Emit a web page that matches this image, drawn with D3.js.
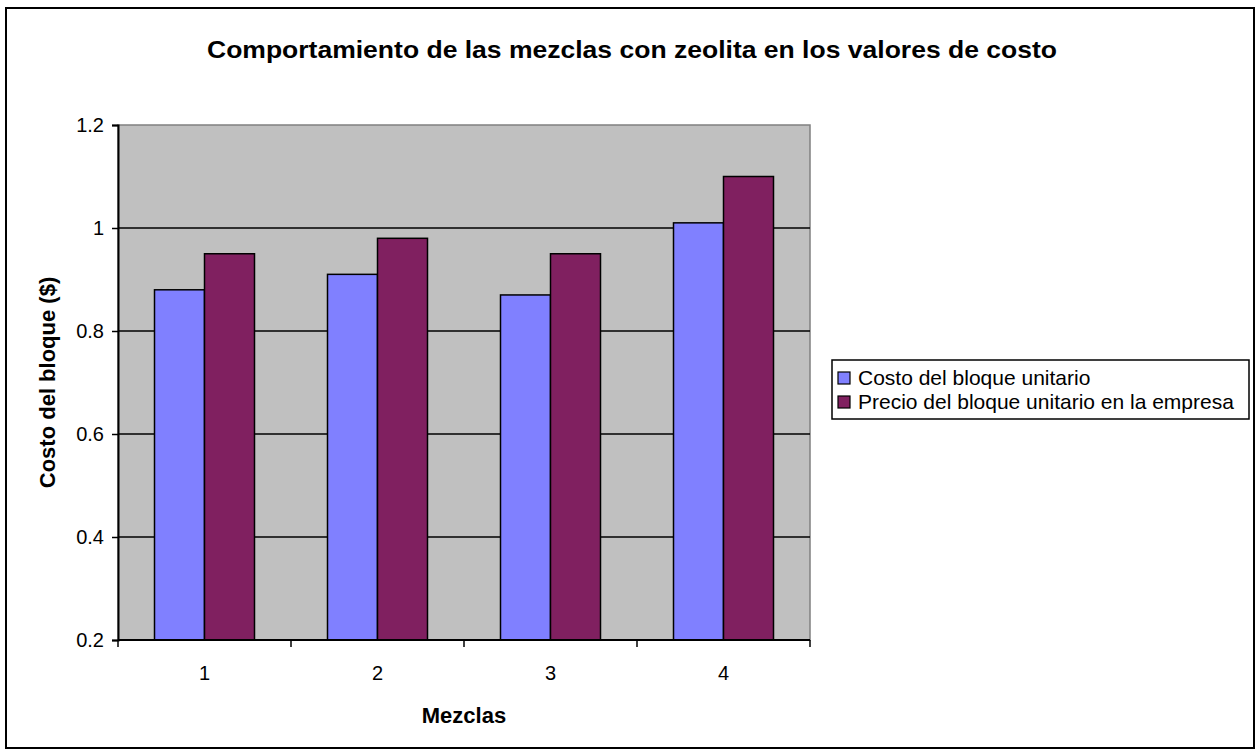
<!DOCTYPE html>
<html>
<head>
<meta charset="utf-8">
<script src="https://cdn.jsdelivr.net/npm/d3@7"></script>
<style>
  html, body { margin: 0; padding: 0; background: #fff; }
  svg { display: block; font-family: "Liberation Sans", Arial, sans-serif; }
</style>
</head>
<body>
<svg id="chart" width="1256" height="753"></svg>
<script>
// Mezclas con zeolita: costo vs. precio del bloque unitario
const categories = ["1", "2", "3", "4"];
const seriesNames = ["Costo del bloque unitario", "Precio del bloque unitario en la empresa"];
const costo = [0.88, 0.91, 0.87, 1.01];
const precio = [0.95, 0.98, 0.95, 1.10];
const yTicks = [0.2, 0.4, 0.6, 0.8, 1, 1.2];
const colors = ["#8080FF", "#802060"];

const svg = d3.select("#chart");
const plot = { left: 118, right: 810, top: 125, bottom: 640 };

// outer frame
svg.append("rect")
  .attr("x", 6).attr("y", 8).attr("width", 1248).attr("height", 740)
  .attr("fill", "#fff").attr("stroke", "#000").attr("stroke-width", 2);

const x = d3.scaleBand().domain(categories).range([plot.left, plot.right]).paddingInner(0).paddingOuter(0);
const xs = d3.scaleBand().domain(d3.range(seriesNames.length)).range([0, x.bandwidth()]).paddingInner(0).paddingOuter(0.73);
const y = d3.scaleLinear().domain([0.2, 1.2]).range([plot.bottom, plot.top]);

// plot area background
svg.append("rect")
  .attr("x", plot.left).attr("y", plot.top)
  .attr("width", plot.right - plot.left).attr("height", plot.bottom - plot.top)
  .attr("fill", "#C0C0C0").attr("stroke", "#808080").attr("stroke-width", 1.5);

// horizontal gridlines
svg.append("g").selectAll("line")
  .data(yTicks.filter(t => t > 0.2 && t < 1.2))
  .join("line")
  .attr("x1", plot.left).attr("x2", plot.right)
  .attr("y1", d => y(d)).attr("y2", d => y(d))
  .attr("stroke", "#000").attr("stroke-width", 1.3);

// bars
const rows = categories.map((c, i) => ({ cat: c, vals: [costo[i], precio[i]] }));
svg.append("g").selectAll("g")
  .data(rows)
  .join("g")
  .attr("transform", d => `translate(${x(d.cat)},0)`)
  .selectAll("rect")
  .data(d => d.vals.map((v, k) => ({ v, k })))
  .join("rect")
  .attr("x", d => xs(d.k))
  .attr("width", xs.bandwidth())
  .attr("y", d => y(d.v))
  .attr("height", d => y(0.2) - y(d.v))
  .attr("fill", d => colors[d.k])
  .attr("stroke", "#000").attr("stroke-width", 1.5);

// y axis
const yAxis = svg.append("g")
  .attr("transform", `translate(${plot.left},0)`)
  .call(d3.axisLeft(y).tickValues(yTicks).tickFormat(d3.format("")).tickSize(6).tickPadding(8));
yAxis.select(".domain").attr("stroke", "#000").attr("stroke-width", 2);
yAxis.selectAll(".tick line").attr("stroke", "#000").attr("stroke-width", 1.5);
yAxis.selectAll(".tick text").attr("font-size", 20).attr("fill", "#000")
  .attr("font-family", "Liberation Sans, Arial, sans-serif");

// x axis: ticks at category boundaries
const xAxisG = svg.append("g").attr("transform", `translate(0,${plot.bottom})`);
xAxisG.append("line")
  .attr("x1", plot.left).attr("x2", plot.right)
  .attr("stroke", "#000").attr("stroke-width", 2);
const bounds = categories.map(c => x(c)).concat([x(categories[categories.length - 1]) + x.bandwidth()]);
xAxisG.selectAll("line.tk")
  .data(bounds)
  .join("line").attr("class", "tk")
  .attr("x1", d => d).attr("x2", d => d)
  .attr("y1", 0).attr("y2", 7)
  .attr("stroke", "#000").attr("stroke-width", 1.5);
xAxisG.selectAll("text")
  .data(categories)
  .join("text")
  .attr("x", d => x(d) + x.bandwidth() / 2)
  .attr("y", 40)
  .attr("text-anchor", "middle")
  .attr("font-size", 20)
  .text(d => d);

// titles
svg.append("text")
  .attr("x", 632).attr("y", 58)
  .attr("text-anchor", "middle")
  .attr("font-size", 24).attr("font-weight", "bold")
  .attr("textLength", 850).attr("lengthAdjust", "spacingAndGlyphs")
  .text("Comportamiento de las mezclas con zeolita en los valores de costo");

svg.append("text")
  .attr("x", (plot.left + plot.right) / 2).attr("y", 723)
  .attr("text-anchor", "middle")
  .attr("font-size", 22).attr("font-weight", "bold")
  .text("Mezclas");

svg.append("text")
  .attr("transform", `translate(55,${(plot.top + plot.bottom) / 2}) rotate(-90)`)
  .attr("text-anchor", "middle")
  .attr("font-size", 22).attr("font-weight", "bold")
  .text("Costo del bloque ($)");

// legend
const legend = svg.append("g").attr("transform", "translate(832,360)");
legend.append("rect")
  .attr("width", 417).attr("height", 59)
  .attr("fill", "#fff").attr("stroke", "#000").attr("stroke-width", 1.5);
const li = legend.selectAll("g.item")
  .data(seriesNames)
  .join("g").attr("class", "item")
  .attr("transform", (d, i) => `translate(6,${18 + i * 24})`);
li.append("rect")
  .attr("x", 0).attr("y", -6).attr("width", 12).attr("height", 12)
  .attr("fill", (d, i) => colors[i]).attr("stroke", "#000").attr("stroke-width", 1.2);
li.append("text")
  .attr("x", 20).attr("y", 7)
  .attr("font-size", 21)
  .text(d => d);
</script>
</body>
</html>
